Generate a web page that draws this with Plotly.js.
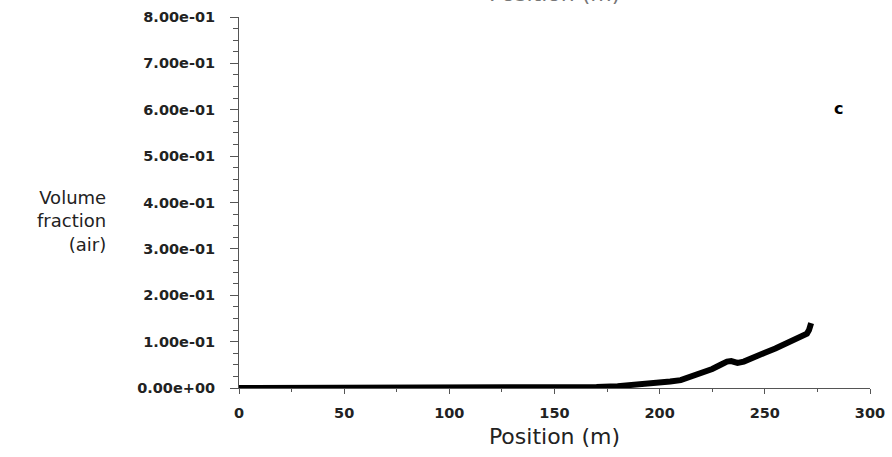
<!DOCTYPE html>
<html>
<head>
<meta charset="utf-8">
<script src="https://cdn.plot.ly/plotly-3.0.1.min.js"></script>
<style>html,body{margin:0;padding:0;background:#fff;}#chart{width:892px;height:457px;}</style>
</head>
<body>
<div id="chart"></div>
<script>
// Data
const positionM = [0, 50, 100, 150, 160, 165, 170, 180, 190, 200, 205, 210, 215, 220, 225, 229, 232, 234, 237, 240, 245, 250, 255, 260, 265, 268, 270, 271, 272];
const airFraction = [0, 0, 0, 0, 0, 0.001, 0.002, 0.004, 0.007, 0.0115, 0.014, 0.017, 0.024, 0.032, 0.041, 0.05, 0.057, 0.058, 0.054, 0.057, 0.065, 0.076, 0.085, 0.095, 0.105, 0.111, 0.117, 0.125, 0.14];
const yTickVals = [0, 0.1, 0.2, 0.3, 0.4, 0.5, 0.6, 0.7, 0.8];
const yTickText = ["0.00e+00", "1.00e-01", "2.00e-01", "3.00e-01", "4.00e-01", "5.00e-01", "6.00e-01", "7.00e-01", "8.00e-01"];
const xTickVals = [0, 50, 100, 150, 200, 250, 300];
const panelLabel = "c";

const tickFont = {family: "DejaVu Sans", size: 14.5, color: "#222", weight: "bold"};

Plotly.newPlot("chart", [{
  x: positionM,
  y: airFraction,
  type: "scatter",
  mode: "lines",
  line: {color: "#000", width: 6},
  hoverinfo: "skip"
}], {
  width: 892,
  height: 457,
  margin: {l: 239, r: 22, t: 17, b: 69},
  paper_bgcolor: "#fff",
  plot_bgcolor: "#fff",
  showlegend: false,
  xaxis: {
    range: [0, 300],
    tickvals: xTickVals,
    ticks: "outside",
    ticklen: 5,
    tickcolor: "#555",
    showline: true,
    linecolor: "#555",
    linewidth: 1,
    showgrid: false,
    zeroline: false,
    tickfont: tickFont,
    ticklabelstandoff: 7,
    minor: {dtick: 25, tick0: 0, ticks: "outside", ticklen: 3, tickcolor: "#555", showgrid: false},
    title: {text: "Position (m)", font: {family: "DejaVu Sans", size: 22, color: "#222"}, standoff: 8}
  },
  yaxis: {
    range: [0, 0.8],
    tickvals: yTickVals,
    ticktext: yTickText,
    ticks: "outside",
    ticklen: 8,
    tickcolor: "#555",
    showline: true,
    linecolor: "#555",
    linewidth: 1,
    showgrid: false,
    zeroline: false,
    tickfont: tickFont,
    ticklabelstandoff: 12,
    minor: {dtick: 0.025, tick0: 0, ticks: "outside", ticklen: 5, tickcolor: "#555", showgrid: false}
  },
  annotations: [
    {
      text: "Volume<br>fraction<br>(air)",
      xref: "paper", yref: "paper",
      x: -0.207, y: 0.451,
      xanchor: "right", yanchor: "middle",
      align: "right",
      showarrow: false,
      font: {family: "DejaVu Sans", size: 18, color: "#222"}
    },
    {
      text: panelLabel,
      xref: "x", yref: "y",
      x: 284.8, y: 0.603,
      xanchor: "center", yanchor: "middle",
      showarrow: false,
      font: {family: "DejaVu Sans", size: 16, color: "#000", weight: "bold"}
    },
    {
      text: "Position (m)",
      xref: "paper", yref: "paper",
      x: 0.5, y: 1.025,
      xanchor: "center", yanchor: "bottom",
      showarrow: false,
      font: {family: "DejaVu Sans", size: 22, color: "#777"}
    }
  ]
}, {displayModeBar: false, staticPlot: true});
</script>
</body>
</html>
